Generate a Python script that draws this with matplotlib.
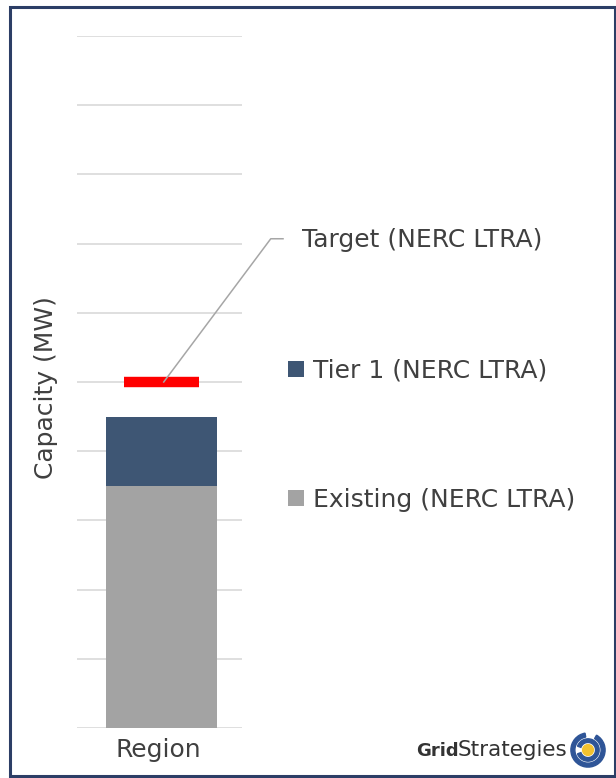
import matplotlib.pyplot as plt
from matplotlib.patches import Rectangle, Circle, Wedge

categories = ["Region"]
existing = [3.5]
tier1 = [1.0]
target = [5.0]
series_labels = ["Existing (NERC LTRA)", "Tier 1 (NERC LTRA)", "Target (NERC LTRA)"]

W, H = 616, 778
fig = plt.figure(figsize=(W / 100, H / 100), dpi=100)
fig.patch.set_facecolor("white")

font = ["DejaVu Sans"]
txt_color = "#404040"
fs = 18

# axes in pixel terms
ax_l, ax_r, ax_t, ax_b = 77, 242, 36, 728
ax = fig.add_axes([ax_l / W, 1 - ax_b / H, (ax_r - ax_l) / W, (ax_b - ax_t) / H])
ax.set_xlim(-0.758, 0.722)
ax.set_ylim(0, 10)
ax.set_yticks(range(0, 11))
ax.yaxis.grid(True, color="#d9d9d9", lw=1.2)
ax.set_axisbelow(True)
for s in ax.spines.values():
    s.set_visible(False)
ax.tick_params(left=False, bottom=False, labelleft=False, labelbottom=False)

x = range(len(categories))
bw = 1.0
ax.bar(x, existing, width=bw, color="#a3a3a3", zorder=2)
ax.bar(x, tier1, bottom=existing, width=bw, color="#3e5674", zorder=2)
for i, t in zip(x, target):
    ax.plot([i - 0.34, i + 0.34], [t, t], color="#ff0000", lw=7.5, solid_capstyle="butt", zorder=3)

# leader from target marker to its label
tx = 0.02
lx1, ly1 = 0.98, 7.07
ax.plot([tx, lx1, lx1 + 0.11], [target[0], ly1, ly1], color="#a6a6a6", lw=1.1, clip_on=False, zorder=4)

fig.text(302 / W, 1 - 247 / H, series_labels[2], fontsize=fs, family=font, color=txt_color,
         va="baseline", ha="left")
# legend-like labels
for lab, col, yb, sq_top in [(series_labels[1], "#3e5674", 377, 361), (series_labels[0], "#a3a3a3", 507, 490)]:
    fig.patches.append(Rectangle((288 / W, 1 - (sq_top + 16) / H), 16 / W, 16 / H, transform=fig.transFigure,
                                 facecolor=col, edgecolor="none"))
    fig.text(313 / W, 1 - yb / H, lab, fontsize=fs, family=font, color=txt_color, va="baseline", ha="left")

fig.text(46 / W, 1 - 388 / H, "Capacity (MW)", rotation=90, fontsize=fs, family=font,
         color=txt_color, va="center", ha="center")
fig.text(158 / W, 1 - 757 / H, categories[0], fontsize=fs, family=font, color=txt_color,
         va="baseline", ha="center")

# branding
fig.text(416 / W, 1 - 756 / H, "Grid", fontsize=13, family=["DejaVu Sans"], weight="bold",
         color="#333333", va="baseline", ha="left")
fig.text(458 / W, 1 - 756 / H, "Strategies", fontsize=15.5, family=["DejaVu Sans"],
         color="#333333", va="baseline", ha="left")
logo_ax = fig.add_axes([570 / W, 1 - 768 / H, 36 / W, 36 / H])
logo_ax.set_xlim(-1, 1)
logo_ax.set_ylim(-1, 1)
logo_ax.set_aspect("equal")
logo_ax.axis("off")
logo_ax.add_patch(Wedge((0, 0), 0.95, 100, 420, width=0.22, color="#2f5597"))
logo_ax.add_patch(Wedge((0, 0), 0.62, 200, 520, width=0.2, color="#2f5597"))
logo_ax.add_patch(Circle((0, 0), 0.3, color="#f2c230"))

# outer frame
fig.patches.append(Rectangle((10 / W, 2 / H), (W - 11) / W, (H - 9) / H, transform=fig.transFigure,
                             fill=False, edgecolor="#2c3e66", lw=2.2))

fig.savefig("out.png", dpi=100)
